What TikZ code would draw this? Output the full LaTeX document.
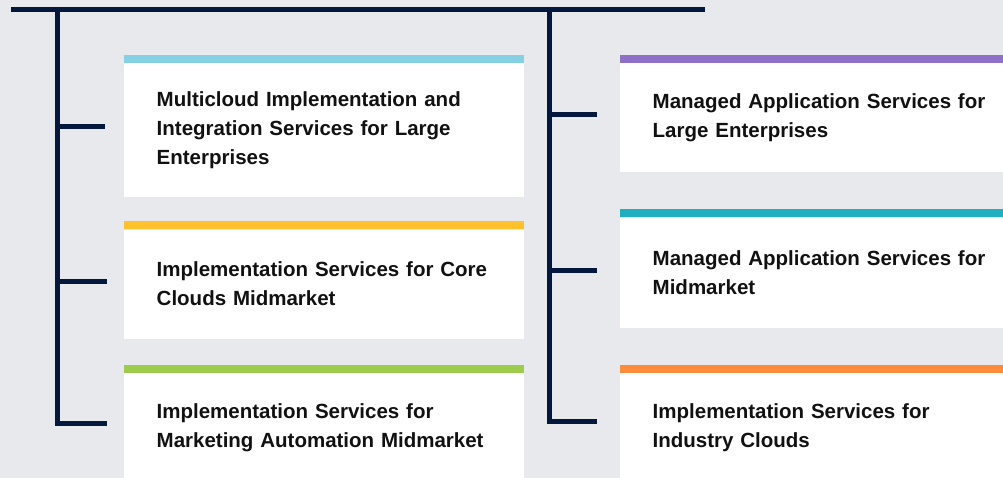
\documentclass[tikz,border=0pt]{standalone}
\usepackage{fontspec}
\setmainfont{Liberation Sans}
\usetikzlibrary{positioning}
\definecolor{PageGray}{HTML}{E8E9ED}
\definecolor{Navy}{HTML}{03183C}
\definecolor{TextBlack}{HTML}{111111}
\definecolor{BarCyan}{HTML}{85D0E3}
\definecolor{BarYellow}{HTML}{FFC22E}
\definecolor{BarGreen}{HTML}{9DCB4B}
\definecolor{BarPurple}{HTML}{8E70C8}
\definecolor{BarTeal}{HTML}{1FAFBF}
\definecolor{BarOrange}{HTML}{FF8C3A}
\begin{document}
\begin{tikzpicture}[
			x=1pt, y=-1pt,
			node distance = 32pt,
			LineStyle/.style={draw=Navy, line width=5pt},
			BoxStyle/.style={fill=white, anchor=north west, minimum width=400pt,
				text width=335pt, inner xsep=32.5pt, inner ysep=0pt, align=left,
				text=TextBlack, font=\bfseries\fontsize{20.5}{29}\selectfont}]
			\clip (0,0) rectangle (1003,478);
			\fill[PageGray] (0,0) rectangle (1003,478);
			\node [BoxStyle, minimum height=134pt] (b1) at (124,63)
				{Multicloud Implementation and\\Integration Services for Large\\Enterprises};
			\node [BoxStyle, minimum height=109pt, below=32pt of b1] (b2)
				{Implementation Services for Core\\Clouds Midmarket};
			\node [BoxStyle, minimum height=110pt, below=34pt of b2] (b3)
				{Implementation Services for\\Marketing Automation Midmarket};
			\node [BoxStyle, minimum height=109pt] (r1) at (620,63)
				{Managed Application Services for\\Large Enterprises};
			\node [BoxStyle, minimum height=110pt, below=45pt of r1] (r2)
				{Managed Application Services for\\Midmarket};
			\node [BoxStyle, minimum height=110pt, below=45pt of r2] (r3)
				{Implementation Services for\\Industry Clouds};
			\fill[BarCyan] ([yshift=8pt]b1.north west) rectangle (b1.north east);
			\fill[BarYellow] ([yshift=8pt]b2.north west) rectangle (b2.north east);
			\fill[BarGreen] ([yshift=8pt]b3.north west) rectangle (b3.north east);
			\fill[BarPurple] ([yshift=8pt]r1.north west) rectangle (r1.north east);
			\fill[BarTeal] ([yshift=8pt]r2.north west) rectangle (r2.north east);
			\fill[BarOrange] ([yshift=8pt]r3.north west) rectangle (r3.north east);
			\coordinate (TopWest) at (11,9.5);
			\coordinate (TopEast) at (705,9.5);
			\coordinate (LeftRoot) at (57,9.5);
			\coordinate (RightRoot) at (549.5,9.5);
			\coordinate (LeftEnd) at (107,423);
			\coordinate (RightEnd) at (597,421);
			\coordinate (LeftTip1) at (105,127);
			\coordinate (LeftTip2) at (107,281);
			\coordinate (RightTip1) at (597,115);
			\coordinate (RightTip2) at (597,270);
			\draw [LineStyle] (TopWest) -- (TopEast);
			\draw [LineStyle] (LeftRoot) |- (LeftEnd);
			\draw [LineStyle] (RightRoot) |- (RightEnd);
			\draw [LineStyle] (LeftTip1 -| LeftRoot) -- (LeftTip1);
			\draw [LineStyle] (LeftTip2 -| LeftRoot) -- (LeftTip2);
			\draw [LineStyle] (RightTip1 -| RightRoot) -- (RightTip1);
			\draw [LineStyle] (RightTip2 -| RightRoot) -- (RightTip2);
		\end{tikzpicture}
\end{document}
